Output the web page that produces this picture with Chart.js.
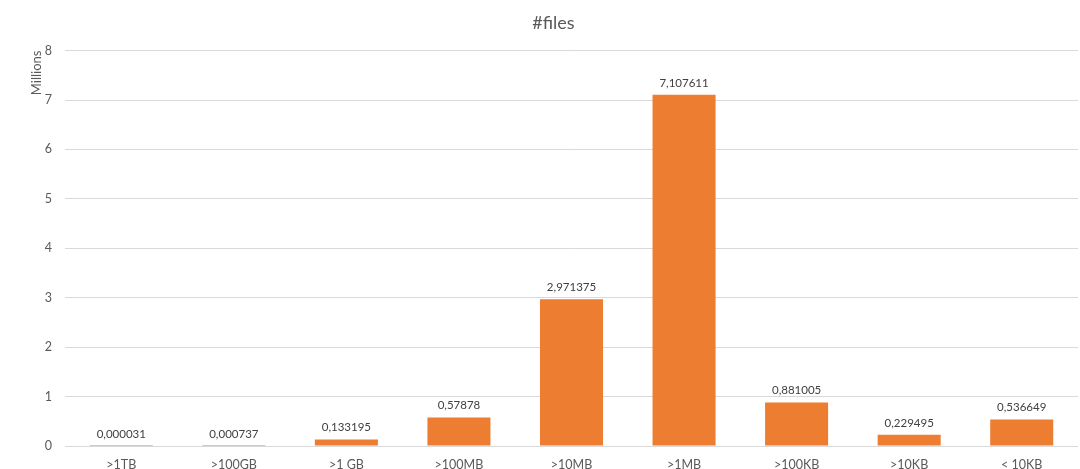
<!DOCTYPE html>
<html>
<head>
<meta charset="utf-8">
<script src="https://cdn.jsdelivr.net/npm/chart.js@4.4.0/dist/chart.umd.min.js"></script>
<style>
html,body{margin:0;padding:0;background:#fff;}
#wrap{width:1080px;height:469px;position:relative;}
</style>
</head>
<body>
<div id="wrap"><canvas id="c" width="1080" height="469"></canvas></div>
<script>
const categories = [">1TB", ">100GB", ">1 GB", ">100MB", ">10MB", ">1MB", ">100KB", ">10KB", "< 10KB"];
const fileCounts = [0.000031, 0.000737, 0.133195, 0.57878, 2.971375, 7.107611, 0.881005, 0.229495, 0.536649];
const yTicks = [0, 1, 2, 3, 4, 5, 6, 7, 8];

const FONT = "Lato, 'Liberation Sans', sans-serif";
const TXT = "#595959";

const labelPlugin = {
  id: "barLabels",
  afterDatasetsDraw(chart) {
    const ctx = chart.ctx;
    const meta = chart.getDatasetMeta(0);
    ctx.save();
    ctx.font = "11.5px " + FONT;
    ctx.fillStyle = "#404040";
    ctx.textAlign = "center";
    ctx.textBaseline = "bottom";
    meta.data.forEach((bar, i) => {
      const txt = String(fileCounts[i]).replace(".", ",");
      ctx.fillText(txt, bar.x, bar.y - 6);
    });
    ctx.restore();
  }
};

new Chart(document.getElementById("c"), {
  type: "bar",
  data: {
    labels: categories,
    datasets: [{
      data: fileCounts,
      backgroundColor: "#ED7D31",
      borderWidth: 0,
      barPercentage: 0.56,
      categoryPercentage: 1.0
    }]
  },
  options: {
    responsive: false,
    animation: false,
    layout: { padding: { left: 29, right: 2, top: 10, bottom: -14 } },
    plugins: {
      legend: { display: false },
      tooltip: { enabled: false },
      title: {
        display: true,
        text: "#files",
        color: TXT,
        font: { family: FONT, size: 18, weight: "normal" },
        padding: { top: 2, bottom: 17 }
      }
    },
    scales: {
      x: {
        grid: { display: false, drawTicks: false, tickLength: 0 },
        border: { display: false },
        ticks: { color: TXT, font: { family: FONT, size: 12.5 }, padding: 11 }
      },
      y: {
        min: 0,
        max: 8,
        afterBuildTicks(scale) { scale.ticks = yTicks.map(v => ({ value: v })); },
        afterFit(scale) { scale.width = 36; },
        grid: { color: "#d9d9d9", drawTicks: false, tickLength: 0 },
        border: { display: false },
        ticks: { color: TXT, font: { family: FONT, size: 12.5 }, padding: 13 },
        title: {
          display: true,
          text: "Millions",
          align: "end",
          color: TXT,
          font: { family: FONT, size: 13 },
          padding: { top: 0, bottom: 0 }
        }
      }
    }
  },
  plugins: [labelPlugin]
});
</script>
</body>
</html>
